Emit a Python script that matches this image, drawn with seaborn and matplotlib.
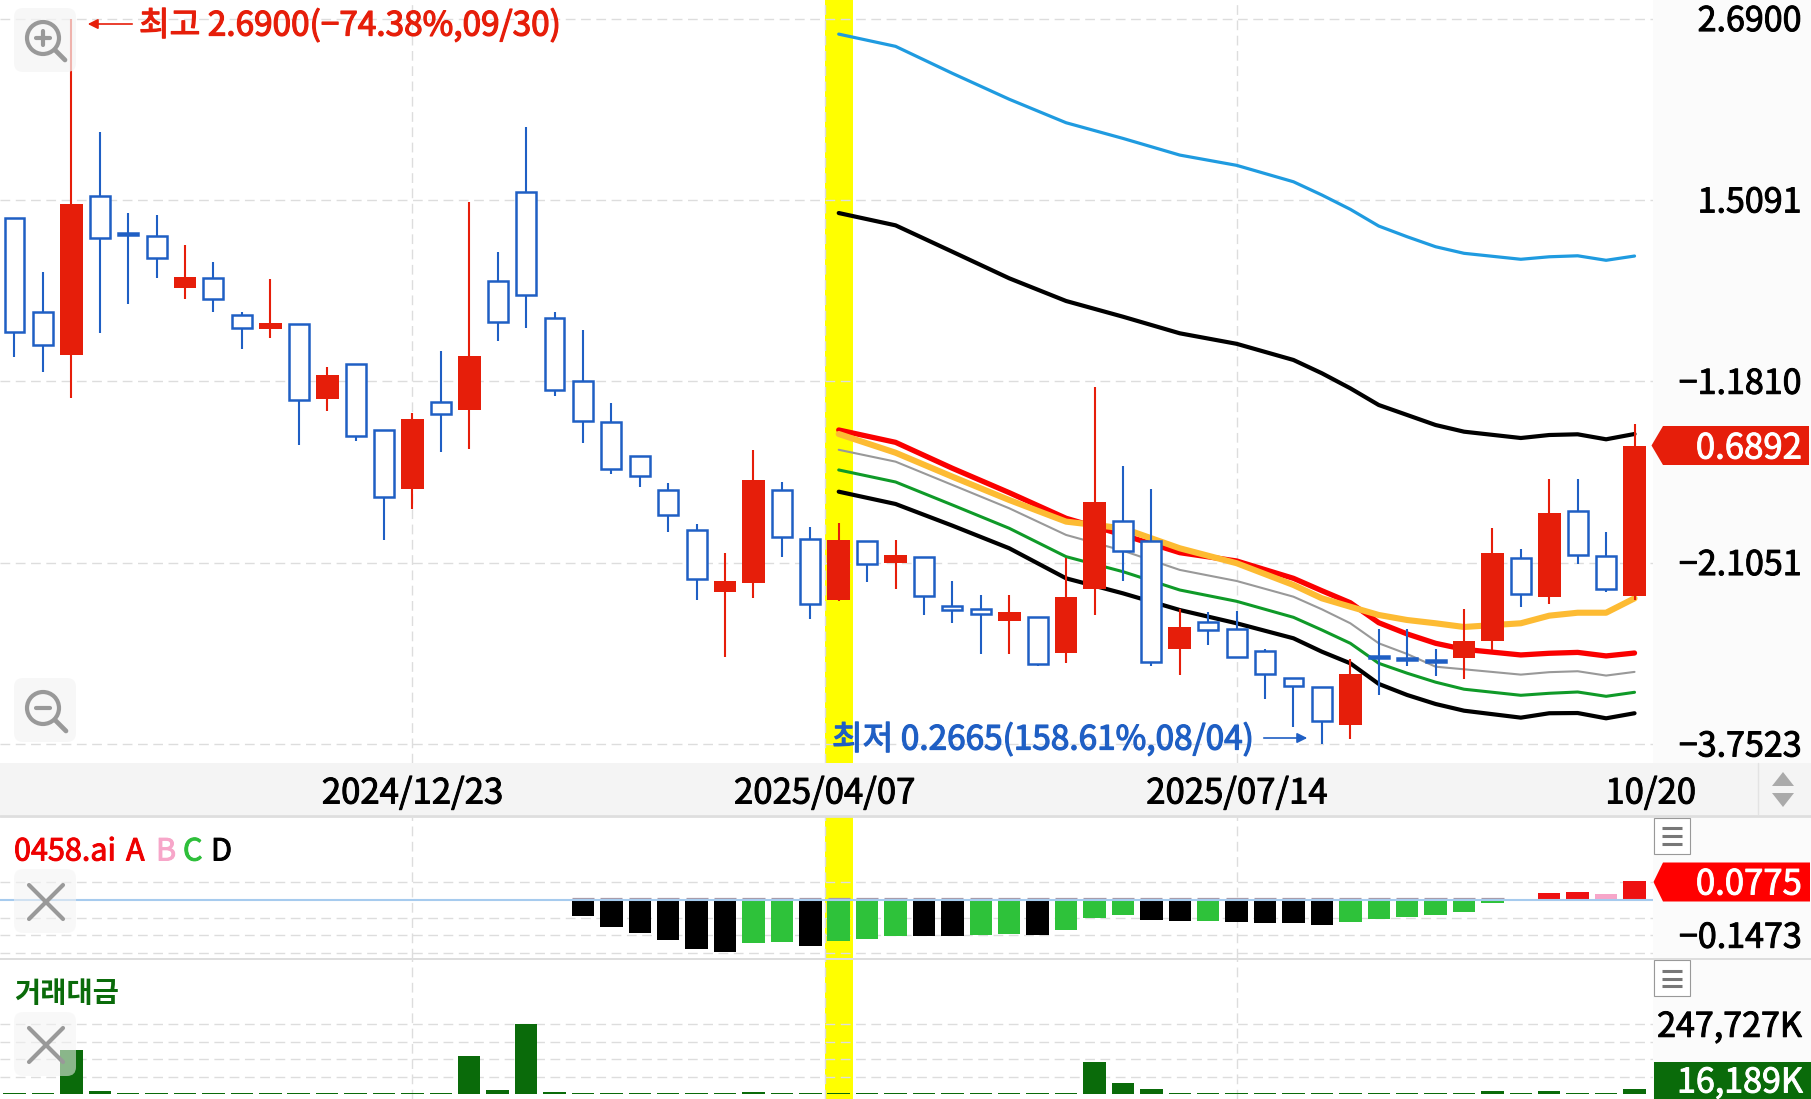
import numpy as np
import pandas as pd
import matplotlib.pyplot as plt
import matplotlib.patheffects as pe
import seaborn as sns
from matplotlib.patches import FancyBboxPatch, Polygon, Circle, Rectangle
from matplotlib.ticker import NullLocator, NullFormatter
from matplotlib.transforms import ScaledTranslation

W, H = 1811, 1099

# weekly candles (open, high, low, close)
opens = [1.4263, 1.0552, 0.9212, 1.5261, 1.358, 1.346, 1.1404, 1.1763, 1.0458, 1.0001,
         1.0149, 0.7994, 0.8932, 0.7256, 0.6012, 0.7933, 0.7726, 1.1655, 1.5472, 1.0348,
         0.8483, 0.7436, 0.6672, 0.5993, 0.5272, 0.4325, 0.4447, 0.5993, 0.5117, 0.4213,
         0.5084, 0.4750, 0.4832, 0.4141, 0.4097, 0.3940, 0.3990, 0.3558, 0.4371, 0.5430,
         0.5089, 0.3607, 0.3927, 0.3848, 0.3587, 0.3293, 0.3193, 0.2834, 0.3525, 0.3501,
         0.3486, 0.3505, 0.3697, 0.4821, 0.4261, 0.5601, 0.4852, 0.4266]
highs = [1.4263, 1.1979, 2.69, 1.874, 1.4498, 1.4363, 1.307, 1.2383, 1.0574, 1.1733,
         1.016, 0.8849, 0.8932, 0.7256, 0.7659, 0.9327, 1.5, 1.2782, 1.9024, 1.0574,
         0.9978, 0.7893, 0.6672, 0.6117, 0.5368, 0.4903, 0.6801, 0.6148, 0.5322, 0.5385,
         0.5084, 0.5106, 0.4832, 0.4475, 0.4280, 0.4280, 0.3990, 0.4817, 0.8306, 0.6463,
         0.6000, 0.4093, 0.4053, 0.4075, 0.3603, 0.3293, 0.3193, 0.3498, 0.3848, 0.3841,
         0.3603, 0.4097, 0.5299, 0.4956, 0.6201, 0.6207, 0.5231, 0.7382]
lows = [0.9139, 0.8729, 0.8032, 0.9888, 1.0845, 1.1767, 1.0995, 1.0542, 0.9383, 0.9706,
        0.6916, 0.7699, 0.7010, 0.5104, 0.5630, 0.6764, 0.6829, 0.9641, 1.0033, 0.8086,
        0.6948, 0.6295, 0.6039, 0.5231, 0.4216, 0.3513, 0.4239, 0.4832, 0.3965, 0.4203,
        0.4470, 0.4371, 0.4023, 0.3922, 0.3550, 0.3550, 0.3420, 0.3453, 0.4016, 0.4480,
        0.3420, 0.3318, 0.3653, 0.3513, 0.3073, 0.2816, 0.2665, 0.2711, 0.3118, 0.3420,
        0.3307, 0.3279, 0.3596, 0.4127, 0.4163, 0.4730, 0.4329, 0.4216]
closes = [0.9909, 0.9510, 1.4915, 1.3348, 1.349, 1.2542, 1.179, 1.102, 1.0023, 1.0185,
          0.7986, 0.8642, 0.7116, 0.5859, 0.7501, 0.7635, 0.9179, 1.0221, 1.1135, 0.8227,
          0.7467, 0.6402, 0.6261, 0.5529, 0.4513, 0.4480, 0.6176, 0.5159, 0.4159, 0.5106,
          0.4726, 0.4863, 0.4275, 0.4084, 0.4033, 0.4058, 0.3442, 0.4253, 0.5757, 0.4925,
          0.3461, 0.3872, 0.3832, 0.3513, 0.3332, 0.3210, 0.2867, 0.3328, 0.3500, 0.3479,
          0.3464, 0.3697, 0.4903, 0.4298, 0.5559, 0.4868, 0.4362, 0.6892]

# indicator lines start at the highlighted candle
line_idx = [29, 31, 33, 35, 37, 39, 41, 43, 45, 46, 47, 48, 49, 50, 51, 53, 54, 55, 56, 57]
sky_line = [2.560, 2.462, 2.259, 2.080, 1.930, 1.836, 1.741, 1.685, 1.599, 1.533,
            1.4646, 1.3886, 1.342, 1.300, 1.273, 1.249, 1.259, 1.263, 1.245, 1.262]
upper_black = [1.4474, 1.3917, 1.2793, 1.1755, 1.0935, 1.0401, 0.9865, 0.954, 0.9061, 0.8685,
               0.8279, 0.7850, 0.7604, 0.7365, 0.7210, 0.7066, 0.7134, 0.7150, 0.7037, 0.7157]
red_line = [0.7249, 0.6969, 0.6416, 0.5936, 0.5471, 0.5188, 0.4903, 0.4775, 0.4518, 0.4343,
            0.4180, 0.3922, 0.3784, 0.3673, 0.3603, 0.3539, 0.3558, 0.3568, 0.3528, 0.3561]
gray_line = [0.6806, 0.6553, 0.6084, 0.5648, 0.5188, 0.4934, 0.4641, 0.4480, 0.4261, 0.4093,
             0.3915, 0.3673, 0.3550, 0.3409, 0.3381, 0.3324, 0.3350, 0.3360, 0.3314, 0.3353]
green_line = [0.6382, 0.6142, 0.5708, 0.5299, 0.4841, 0.4615, 0.4353, 0.4199, 0.3990, 0.3832,
              0.3673, 0.3446, 0.3339, 0.3245, 0.3173, 0.3112, 0.3132, 0.3145, 0.3102, 0.3142]
lower_black = [0.5955, 0.5726, 0.5344, 0.4972, 0.4518, 0.4307, 0.4084, 0.3915, 0.3732, 0.3576,
               0.3446, 0.3227, 0.3115, 0.3027, 0.2963, 0.2898, 0.2939, 0.2941, 0.2892, 0.2939]
yellow_line = [0.7157, 0.6742, 0.6246, 0.5799, 0.5413, 0.5299, 0.4972, 0.4741, 0.4423, 0.4239,
               0.4127, 0.4020, 0.3956, 0.3915, 0.3869, 0.3915, 0.4011, 0.4049, 0.4049, 0.4239]

# 0458.ai oscillator
osc_idx = list(range(20, 58))
osc_vals = [-0.067, -0.112, -0.138, -0.167, -0.204, -0.218, -0.180, -0.177, -0.191, -0.172,
            -0.163, -0.149, -0.151, -0.152, -0.148, -0.142, -0.145, -0.126, -0.074, -0.063,
            -0.085, -0.087, -0.087, -0.091, -0.095, -0.097, -0.103, -0.092, -0.079, -0.070,
            -0.063, -0.050, -0.013, 0.002, 0.031, 0.035, 0.024, 0.0775]
osc_kind = list("DDDDDDCCDCCCDDCCDCCCDDCDDDDCCCCCCBAABA")

# traded value, thousands
volume = [3000, 3000, 156400, 10700, 4000, 3500, 4500, 3500, 3000, 3000,
          3000, 3000, 3000, 3000, 3000, 3000, 135000, 14200, 247727, 5500,
          5000, 4500, 4000, 4000, 3000, 3000, 7000, 3000, 3000, 3000,
          3000, 3000, 3000, 3000, 3000, 3000, 3000, 3000, 114900, 37900,
          17800, 4500, 4500, 4500, 3500, 3500, 3500, 4500, 3500, 3000,
          4500, 5000, 9500, 4000, 9500, 4000, 4000, 16189]

price_ticks = [2.69, 1.5091, 0.8467, 0.4751, 0.2665]
price_labels = ["2.6900", "1.5091", "−1.1810", "−2.1051", "−3.7523"]
date_pos = [14, 28.5, 43, 57.55]
date_labels = ["2024/12/23", "2025/04/07", "2025/07/14", "10/20"]

RED = "#e61e0a"
BLUE = "#1f5fc4"
DKGREEN = "#0a6b0a"
GRID = "#dddddd"
DASH = (0, (7, 4))
XLIM = (-0.51, 57.65)

sns.set_theme(style="white")
plt.rcParams["font.family"] = ["Noto Sans CJK KR", "DejaVu Sans"]
plt.rcParams["axes.unicode_minus"] = False


def px_axes(fig, x0, y0, x1, y1, **kw):
    return fig.add_axes([x0 / W, 1 - y1 / H, (x1 - x0) / W, (y1 - y0) / H], **kw)


def heavy(col, width=0.7):
    # the installed font has no medium weight, so thicken the regular one a little
    return [pe.withStroke(linewidth=width, foreground=col)]


def style_panel(ax, ylim, yticks, ylabels, drop_px=-1):
    ax.set_xlim(*XLIM)
    ax.set_ylim(*ylim)
    ax.set_xticks(date_pos[:3])
    ax.set_xticklabels([])
    ax.set_yticks(yticks)
    ax.set_yticklabels(ylabels)
    ax.yaxis.tick_right()
    ax.tick_params(axis="both", length=0)
    ax.tick_params(axis="y", pad=107, labelsize=24.5, labelcolor="black")
    shift = ScaledTranslation(0, -drop_px / 100, ax.figure.dpi_scale_trans)
    for lab in ax.get_yticklabels():
        lab.set_ha("right")
        lab.set_path_effects(heavy("black"))
        lab.set_transform(lab.get_transform() + shift)
    ax.grid(True, color=GRID, linestyle=DASH, linewidth=1.0)
    ax.set_axisbelow(True)
    ax.set_xlabel("")
    ax.set_ylabel("")
    ax.axvspan(28.5, 29.5, color="#ffff00", zorder=0.5, lw=0)
    sns.despine(ax=ax, left=True, bottom=True, right=True, top=True)


def draw_candles(ax):
    x = np.arange(len(opens))
    o, h, l, c = map(np.array, (opens, highs, lows, closes))
    up = c > o
    ax.vlines(x[up], l[up], h[up], color=RED, lw=1.5, zorder=3)
    ax.vlines(x[~up], l[~up], h[~up], color=BLUE, lw=1.5, zorder=3)
    ax.bar(x[up], c[up] - o[up], bottom=o[up], width=0.8, color=RED, lw=0, zorder=4)
    ax.bar(x[~up], o[~up] - c[~up], bottom=c[~up], width=0.7, facecolor="white",
           edgecolor=BLUE, lw=1.8, zorder=4)


def draw_lines(ax):
    specs = [(sky_line, "#1f9be0", 2.3), (upper_black, "black", 3.0), (red_line, "#fa0000", 3.8),
             (gray_line, "#999999", 1.5), (green_line, "#0f9a28", 2.2),
             (lower_black, "black", 3.0), (yellow_line, "#fdbb33", 4.4)]
    for vals, col, lw in specs:
        sns.lineplot(x=line_idx, y=vals, color=col, linewidth=lw, ax=ax, zorder=2, errorbar=None)


def magnifier(ui, cx, cy, tip, plus):
    ui.add_patch(FancyBboxPatch((14, cy - 30), 62, 64, boxstyle="round,pad=0,rounding_size=9",
                                fc="#f4f4f4", ec="none", alpha=0.7))
    ui.add_patch(Circle((cx, cy), 16, fc="none", ec="#999999", lw=3))
    ui.plot([cx + 12, tip[0]], [cy + 12, tip[1]], color="#999999", lw=3.4, solid_capstyle="round")
    ui.plot([cx - 7, cx + 7], [cy, cy], color="#999999", lw=3, solid_capstyle="round")
    if plus:
        ui.plot([cx, cx], [cy - 7, cy + 7], color="#999999", lw=3, solid_capstyle="round")


def close_icon(ui, y0):
    ui.add_patch(FancyBboxPatch((14, y0), 62, 64, boxstyle="round,pad=0,rounding_size=9",
                                fc="#f4f4f4", ec="none", alpha=0.55))
    ui.plot([29, 63], [y0 + 16, y0 + 50], color="#999999", lw=3, solid_capstyle="round")
    ui.plot([29, 63], [y0 + 50, y0 + 16], color="#999999", lw=3, solid_capstyle="round")


def menu_button(ui, y0):
    ui.add_patch(Rectangle((1653.5, y0), 36, 36, fc="white", ec="#999999", lw=0.8))
    for dy in (10.5, 18.5, 26):
        ui.plot([1662, 1682], [y0 + dy, y0 + dy], color="#777777", lw=2.2, solid_capstyle="butt")


def draw_ui(fig):
    ui = px_axes(fig, 0, 0, W, H, zorder=10)
    ui.set_xlim(0, W)
    ui.set_ylim(H, 0)
    ui.axis("off")

    magnifier(ui, 43, 38, (65, 60), True)
    magnifier(ui, 43, 708, (66, 731), False)
    close_icon(ui, 869)
    close_icon(ui, 1012)
    menu_button(ui, 817.5)
    menu_button(ui, 960)

    # high / low notes
    ui.annotate("", xy=(85, 24), xytext=(135, 24),
                arrowprops=dict(arrowstyle="-|>,head_width=0.25,head_length=0.5", color=RED, lw=1.2))
    ui.text(139, 26, "최고 2.6900(−74.38%,09/30)", color=RED, fontsize=24, ha="left", va="center",
            path_effects=heavy(RED, 0.9))
    ui.text(832, 740, "최저 0.2665(158.61%,08/04)", color=BLUE, fontsize=24, ha="left", va="center",
            path_effects=heavy(BLUE, 0.9))
    ui.annotate("", xy=(1310, 738), xytext=(1261, 738),
                arrowprops=dict(arrowstyle="-|>,head_width=0.25,head_length=0.5", color=BLUE, lw=1.2))

    # date strip
    ui.add_patch(Rectangle((0, 763), W, 52, fc="#f4f4f4", ec="none"))
    ui.plot([0, W], [815.5, 815.5], color="#dedede", lw=2)
    ui.plot([1758, 1758], [763, 814], color="#e3e3e3", lw=1)
    ui.add_patch(Polygon([(1772, 786), (1794, 786), (1783, 772)], fc="#aaaaaa", ec="none"))
    ui.add_patch(Polygon([(1772, 793), (1794, 793), (1783, 807)], fc="#aaaaaa", ec="none"))
    for pos, lab in zip(date_pos, date_labels):
        ui.text(14.5 + 28.43 * pos, 794, lab, color="black", fontsize=25, ha="center", va="center",
                path_effects=heavy("black"))
    ui.plot([0, W], [958.5, 958.5], color="#dddddd", lw=1.4)

    # current value tags
    ui.add_patch(Polygon([(1651.5, 445.5), (1663, 426), (W - 2, 426), (W - 2, 465), (1663, 465)],
                         fc=RED, ec="none"))
    ui.text(1802, 449, "0.6892", color="white", fontsize=25, ha="right", va="center",
            path_effects=heavy("white"))
    ui.add_patch(Polygon([(1653.5, 882), (1663, 862.5), (W - 1, 862.5), (W - 1, 901.5), (1663, 901.5)],
                         fc="#ff0000", ec="none"))
    ui.text(1802, 885, "0.0775", color="white", fontsize=25, ha="right", va="center",
            path_effects=heavy("white"))
    ui.add_patch(Rectangle((1653.5, 1062), W - 1653.5, 37, fc=DKGREEN, ec="none"))
    ui.text(1803, 1083, "16,189K", color="white", fontsize=24.5, ha="right", va="center",
            path_effects=heavy("white"))

    # indicator titles
    for txt, col, xpos in [("0458.ai", "#ee0000", 14), ("A", "#ee0000", 126), ("B", "#f7a6c9", 156),
                           ("C", "#2ebf3a", 183), ("D", "black", 211)]:
        ui.text(xpos, 852, txt, color=col, fontsize=22, ha="left", va="center", path_effects=heavy(col))
    ui.text(14, 994, "거래대금", color=DKGREEN, fontsize=20.5, fontweight="bold", ha="left", va="center")


def main():
    fig = plt.figure(figsize=(W / 100, H / 100), dpi=100, facecolor="#fbfbfb")

    # price panel
    ax = px_axes(fig, 0, 0, 1653, 763, facecolor="white")
    ax.set_yscale("log")
    draw_lines(ax)
    draw_candles(ax)
    style_panel(ax, (0.2508, 2.854), price_ticks, price_labels)
    ax.yaxis.set_minor_locator(NullLocator())
    ax.yaxis.set_minor_formatter(NullFormatter())

    # oscillator panel
    ax_osc = px_axes(fig, 0, 817, 1653, 958, facecolor="white")
    osc_df = pd.DataFrame({"idx": osc_idx, "val": osc_vals, "kind": osc_kind})
    sns.barplot(data=osc_df, x="idx", y="val", hue="kind", dodge=False, native_scale=True, width=0.79,
                palette={"A": "#ee1111", "B": "#f7a6c9", "C": "#2ec23a", "D": "black"},
                saturation=1, linewidth=0, legend=False, ax=ax_osc, zorder=3)
    neg = osc_df[osc_df["val"] < 0]["idx"].to_numpy()
    ax_osc.hlines(np.full(len(neg), 0.008), neg - 0.39, neg + 0.39, color="#a89aa8", lw=0.9, zorder=3)
    ax_osc.axhline(0, color="#a6cbee", lw=1.5, zorder=4)
    style_panel(ax_osc, (-0.2427, 0.347), [0.0737, -0.0737, -0.1473, -0.221], ["", "", "−0.1473", ""])

    # traded value panel
    ax_vol = px_axes(fig, 0, 959, 1653, H, facecolor="white")
    vol_df = pd.DataFrame({"idx": np.arange(len(volume)), "val": volume})
    sns.barplot(data=vol_df, x="idx", y="val", color=DKGREEN, native_scale=True, width=0.79,
                saturation=1, linewidth=0, ax=ax_vol, zorder=3)
    style_panel(ax_vol, (-17770, 479800), [247727, 185900, 123800, 61900], ["247,727K", "", "", ""])

    draw_ui(fig)
    fig.savefig("out.png", dpi=100, facecolor=fig.get_facecolor())
    plt.close(fig)


if __name__ == "__main__":
    main()
